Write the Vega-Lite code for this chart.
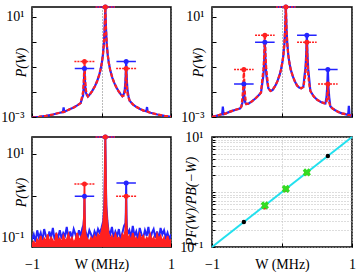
{
"$schema":"https://vega.github.io/schema/vega-lite/v6.json",
"padding":{"left":0,"top":3,"right":6,"bottom":0},
"background":"white",
"config":{"view":{"stroke":"black","strokeWidth":1.5},"font":"Liberation Serif",
"axis":{"labelFont":"Liberation Serif","titleFont":"Liberation Serif","labelFontSize":14,"titleFontSize":14,"titleFontWeight":"normal","labelColor":"black","titleColor":"black","tickColor":"black","domain":false,"labelFlush":false},
"text":{"font":"Liberation Serif","fontSize":14}},
"datasets":{
"sa":[{"W":-1,"b":0.00094,"r":0.00094},{"W":-0.9,"b":0.00101,"r":0.00101},{"W":-0.8,"b":0.00111,"r":0.00111},{"W":-0.7,"b":0.00126,"r":0.00126},{"W":-0.6,"b":0.00148,"r":0.00148},{"W":-0.555,"b":0.00158,"r":0.00158},{"W":-0.545,"b":0.0024,"r":0.0016},{"W":-0.535,"b":0.0016,"r":0.0016},{"W":-0.5,"b":0.0018,"r":0.0018},{"W":-0.45,"b":0.0021,"r":0.0021},{"W":-0.4,"b":0.0024,"r":0.0024},{"W":-0.35,"b":0.0029,"r":0.0029},{"W":-0.3,"b":0.0036,"r":0.0036},{"W":-0.28,"b":0.0055,"r":0.0065},{"W":-0.265,"b":0.0073,"r":0.0103},{"W":-0.255,"b":0.0167,"r":0.0277},{"W":-0.25,"b":0.038,"r":0.069},{"W":-0.245,"b":0.087,"r":0.166},{"W":-0.24,"b":0.039,"r":0.07},{"W":-0.235,"b":0.019,"r":0.03},{"W":-0.225,"b":0.0095,"r":0.012},{"W":-0.21,"b":0.0075,"r":0.0085},{"W":-0.195,"b":0.0066,"r":0.0066},{"W":-0.165,"b":0.0082,"r":0.0082},{"W":-0.135,"b":0.0109,"r":0.0109},{"W":-0.095,"b":0.017,"r":0.017},{"W":-0.065,"b":0.0263,"r":0.0263},{"W":-0.035,"b":0.046,"r":0.046},{"W":-0.015,"b":0.076,"r":0.076},{"W":0.005,"b":0.148,"r":0.148},{"W":0.02,"b":0.3,"r":0.3},{"W":0.035,"b":0.89,"r":0.89},{"W":0.045,"b":3.22,"r":3.22},{"W":0.05,"b":9.25,"r":9.25},{"W":0.055,"b":24.7,"r":24.7},{"W":0.06,"b":9.25,"r":9.25},{"W":0.065,"b":3.22,"r":3.22},{"W":0.075,"b":0.89,"r":0.89},{"W":0.09,"b":0.3,"r":0.3},{"W":0.105,"b":0.148,"r":0.148},{"W":0.125,"b":0.076,"r":0.076},{"W":0.155,"b":0.0376,"r":0.0376},{"W":0.185,"b":0.0225,"r":0.0225},{"W":0.215,"b":0.0151,"r":0.0151},{"W":0.245,"b":0.0109,"r":0.0109},{"W":0.275,"b":0.0082,"r":0.0082},{"W":0.3,"b":0.0068,"r":0.0068},{"W":0.32,"b":0.0082,"r":0.0071},{"W":0.335,"b":0.0123,"r":0.0093},{"W":0.345,"b":0.029,"r":0.018},{"W":0.35,"b":0.07,"r":0.04},{"W":0.355,"b":0.166,"r":0.087},{"W":0.36,"b":0.07,"r":0.04},{"W":0.365,"b":0.028,"r":0.017},{"W":0.375,"b":0.011,"r":0.008},{"W":0.39,"b":0.0065,"r":0.0058},{"W":0.405,"b":0.0045,"r":0.0045},{"W":0.455,"b":0.0031,"r":0.0031},{"W":0.505,"b":0.0025,"r":0.0025},{"W":0.555,"b":0.0021,"r":0.0021},{"W":0.605,"b":0.0018,"r":0.0018},{"W":0.645,"b":0.0017,"r":0.0017},{"W":0.655,"b":0.0025,"r":0.0017},{"W":0.665,"b":0.0016,"r":0.0016},{"W":0.705,"b":0.00148,"r":0.00148},{"W":0.805,"b":0.00126,"r":0.00126},{"W":0.905,"b":0.00111,"r":0.00111},{"W":1,"b":0.00101,"r":0.00101}],
"sb":[{"W":-1,"b":0.001,"r":0.001},{"W":-0.95,"b":0.0011,"r":0.0011},{"W":-0.9,"b":0.0012,"r":0.0012},{"W":-0.855,"b":0.0013,"r":0.0013},{"W":-0.845,"b":0.0026,"r":0.0013},{"W":-0.835,"b":0.0013,"r":0.0013},{"W":-0.8,"b":0.0014,"r":0.0014},{"W":-0.75,"b":0.0016,"r":0.0016},{"W":-0.7,"b":0.0018,"r":0.0018},{"W":-0.65,"b":0.002,"r":0.002},{"W":-0.6,"b":0.0022,"r":0.0022},{"W":-0.58,"b":0.0026,"r":0.0026},{"W":-0.565,"b":0.0038,"r":0.006},{"W":-0.555,"b":0.0059,"r":0.014},{"W":-0.55,"b":0.011,"r":0.034},{"W":-0.545,"b":0.021,"r":0.079},{"W":-0.54,"b":0.011,"r":0.034},{"W":-0.535,"b":0.0059,"r":0.014},{"W":-0.525,"b":0.0038,"r":0.006},{"W":-0.51,"b":0.0033,"r":0.0033},{"W":-0.48,"b":0.0034,"r":0.0034},{"W":-0.43,"b":0.0042,"r":0.0042},{"W":-0.38,"b":0.0055,"r":0.0055},{"W":-0.33,"b":0.0075,"r":0.0075},{"W":-0.3,"b":0.0095,"r":0.0095},{"W":-0.28,"b":0.024,"r":0.035},{"W":-0.265,"b":0.048,"r":0.082},{"W":-0.255,"b":0.15,"r":0.27},{"W":-0.25,"b":0.39,"r":0.74},{"W":-0.245,"b":0.98,"r":1.87},{"W":-0.24,"b":0.39,"r":0.74},{"W":-0.235,"b":0.15,"r":0.27},{"W":-0.225,"b":0.05,"r":0.085},{"W":-0.21,"b":0.025,"r":0.035},{"W":-0.195,"b":0.014,"r":0.014},{"W":-0.165,"b":0.011,"r":0.011},{"W":-0.135,"b":0.012,"r":0.012},{"W":-0.095,"b":0.018,"r":0.018},{"W":-0.065,"b":0.027,"r":0.027},{"W":-0.035,"b":0.047,"r":0.047},{"W":-0.015,"b":0.078,"r":0.078},{"W":0.005,"b":0.15,"r":0.15},{"W":0.02,"b":0.3,"r":0.3},{"W":0.035,"b":0.9,"r":0.9},{"W":0.045,"b":3.2,"r":3.2},{"W":0.05,"b":9.3,"r":9.3},{"W":0.055,"b":25,"r":25},{"W":0.06,"b":9.3,"r":9.3},{"W":0.065,"b":3.2,"r":3.2},{"W":0.075,"b":0.9,"r":0.9},{"W":0.09,"b":0.3,"r":0.3},{"W":0.105,"b":0.15,"r":0.15},{"W":0.125,"b":0.078,"r":0.078},{"W":0.155,"b":0.042,"r":0.042},{"W":0.185,"b":0.026,"r":0.026},{"W":0.215,"b":0.018,"r":0.018},{"W":0.245,"b":0.015,"r":0.015},{"W":0.275,"b":0.014,"r":0.014},{"W":0.305,"b":0.016,"r":0.016},{"W":0.32,"b":0.04,"r":0.028},{"W":0.335,"b":0.09,"r":0.055},{"W":0.345,"b":0.28,"r":0.16},{"W":0.35,"b":0.74,"r":0.4},{"W":0.355,"b":1.87,"r":0.98},{"W":0.36,"b":0.74,"r":0.4},{"W":0.365,"b":0.27,"r":0.15},{"W":0.375,"b":0.08,"r":0.045},{"W":0.39,"b":0.03,"r":0.02},{"W":0.405,"b":0.011,"r":0.011},{"W":0.455,"b":0.0065,"r":0.0065},{"W":0.505,"b":0.0048,"r":0.0048},{"W":0.555,"b":0.004,"r":0.004},{"W":0.6,"b":0.0036,"r":0.0036},{"W":0.62,"b":0.0035,"r":0.0035},{"W":0.635,"b":0.006,"r":0.0038},{"W":0.645,"b":0.014,"r":0.0059},{"W":0.65,"b":0.034,"r":0.011},{"W":0.655,"b":0.079,"r":0.021},{"W":0.66,"b":0.034,"r":0.011},{"W":0.665,"b":0.014,"r":0.0059},{"W":0.675,"b":0.006,"r":0.0038},{"W":0.69,"b":0.0027,"r":0.0027},{"W":0.72,"b":0.0022,"r":0.0022},{"W":0.755,"b":0.0019,"r":0.0019},{"W":0.805,"b":0.0016,"r":0.0016},{"W":0.855,"b":0.0014,"r":0.0014},{"W":0.905,"b":0.0013,"r":0.0013},{"W":0.945,"b":0.0012,"r":0.0012},{"W":0.955,"b":0.0028,"r":0.0012},{"W":0.965,"b":0.0012,"r":0.0012},{"W":1,"b":0.0011,"r":0.0011}],
"sc":[{"W":-1,"b":0.09,"r":0.07},{"W":-0.975,"b":0.12,"r":0.08},{"W":-0.95,"b":0.08,"r":0.065},{"W":-0.925,"b":0.15,"r":0.09},{"W":-0.9,"b":0.1,"r":0.075},{"W":-0.875,"b":0.13,"r":0.11},{"W":-0.85,"b":0.085,"r":0.07},{"W":-0.825,"b":0.16,"r":0.095},{"W":-0.8,"b":0.11,"r":0.08},{"W":-0.775,"b":0.09,"r":0.12},{"W":-0.75,"b":0.14,"r":0.075},{"W":-0.725,"b":0.1,"r":0.1},{"W":-0.7,"b":0.17,"r":0.085},{"W":-0.675,"b":0.09,"r":0.07},{"W":-0.65,"b":0.12,"r":0.13},{"W":-0.625,"b":0.1,"r":0.08},{"W":-0.6,"b":0.15,"r":0.095},{"W":-0.575,"b":0.095,"r":0.075},{"W":-0.55,"b":0.13,"r":0.11},{"W":-0.525,"b":0.11,"r":0.085},{"W":-0.5,"b":0.18,"r":0.09},{"W":-0.475,"b":0.09,"r":0.12},{"W":-0.45,"b":0.14,"r":0.08},{"W":-0.425,"b":0.1,"r":0.1},{"W":-0.4,"b":0.16,"r":0.075},{"W":-0.375,"b":0.12,"r":0.09},{"W":-0.35,"b":0.09,"r":0.13},{"W":-0.325,"b":0.15,"r":0.085},{"W":-0.3,"b":0.11,"r":0.1},{"W":-0.275,"b":0.17,"r":0.12},{"W":-0.26,"b":0.2,"r":0.16},{"W":-0.25,"b":0.3,"r":0.4},{"W":-0.245,"b":0.92,"r":1.9},{"W":-0.24,"b":0.25,"r":0.35},{"W":-0.235,"b":0.16,"r":0.14},{"W":-0.225,"b":0.13,"r":0.11},{"W":-0.2,"b":0.1,"r":0.09},{"W":-0.175,"b":0.15,"r":0.08},{"W":-0.15,"b":0.12,"r":0.1},{"W":-0.125,"b":0.09,"r":0.085},{"W":-0.1,"b":0.14,"r":0.11},{"W":-0.075,"b":0.11,"r":0.09},{"W":-0.05,"b":0.16,"r":0.12},{"W":-0.025,"b":0.13,"r":0.1},{"W":0,"b":0.17,"r":0.14},{"W":0.025,"b":0.25,"r":0.22},{"W":0.04,"b":0.6,"r":0.5},{"W":0.045,"b":1.5,"r":1.4},{"W":0.05,"b":6,"r":6},{"W":0.055,"b":25,"r":25},{"W":0.06,"b":6,"r":6},{"W":0.065,"b":1.5,"r":1.4},{"W":0.07,"b":0.6,"r":0.5},{"W":0.085,"b":0.25,"r":0.22},{"W":0.1,"b":0.15,"r":0.13},{"W":0.125,"b":0.12,"r":0.09},{"W":0.15,"b":0.18,"r":0.11},{"W":0.175,"b":0.1,"r":0.08},{"W":0.2,"b":0.14,"r":0.12},{"W":0.225,"b":0.11,"r":0.09},{"W":0.25,"b":0.16,"r":0.1},{"W":0.275,"b":0.09,"r":0.08},{"W":0.3,"b":0.13,"r":0.12},{"W":0.325,"b":0.19,"r":0.1},{"W":0.345,"b":0.22,"r":0.16},{"W":0.35,"b":0.4,"r":0.3},{"W":0.355,"b":2,"r":0.95},{"W":0.36,"b":0.35,"r":0.25},{"W":0.365,"b":0.18,"r":0.15},{"W":0.375,"b":0.12,"r":0.09},{"W":0.4,"b":0.15,"r":0.11},{"W":0.425,"b":0.1,"r":0.08},{"W":0.45,"b":0.19,"r":0.13},{"W":0.475,"b":0.11,"r":0.09},{"W":0.5,"b":0.14,"r":0.1},{"W":0.525,"b":0.09,"r":0.08},{"W":0.55,"b":0.17,"r":0.12},{"W":0.575,"b":0.12,"r":0.09},{"W":0.6,"b":0.1,"r":0.11},{"W":0.625,"b":0.15,"r":0.08},{"W":0.65,"b":0.11,"r":0.1},{"W":0.675,"b":0.18,"r":0.09},{"W":0.7,"b":0.09,"r":0.12},{"W":0.725,"b":0.13,"r":0.085},{"W":0.75,"b":0.16,"r":0.1},{"W":0.775,"b":0.1,"r":0.075},{"W":0.8,"b":0.14,"r":0.12},{"W":0.825,"b":0.09,"r":0.09},{"W":0.85,"b":0.17,"r":0.11},{"W":0.875,"b":0.12,"r":0.08},{"W":0.9,"b":0.15,"r":0.1},{"W":0.925,"b":0.1,"r":0.07},{"W":0.95,"b":0.13,"r":0.11},{"W":0.975,"b":0.09,"r":0.08},{"W":1,"b":0.12,"r":0.09}],
"ea":[{"s":"b","Wc":0.055,"P":25,"lo":-0.085,"hi":0.195},{"s":"r","Wc":0.055,"P":25,"lo":-0.085,"hi":0.195},{"s":"b","Wc":-0.245,"P":0.087,"lo":-0.385,"hi":-0.105},{"s":"r","Wc":-0.245,"P":0.166,"lo":-0.39,"hi":-0.1},{"s":"b","Wc":0.355,"P":0.166,"lo":0.215,"hi":0.495},{"s":"r","Wc":0.355,"P":0.087,"lo":0.21,"hi":0.5}],
"eb":[{"s":"b","Wc":0.055,"P":25,"lo":-0.085,"hi":0.195},{"s":"r","Wc":0.055,"P":25,"lo":-0.085,"hi":0.195},{"s":"b","Wc":-0.545,"P":0.021,"lo":-0.685,"hi":-0.405},{"s":"r","Wc":-0.545,"P":0.079,"lo":-0.685,"hi":-0.405},{"s":"b","Wc":-0.245,"P":0.98,"lo":-0.385,"hi":-0.105},{"s":"r","Wc":-0.245,"P":1.87,"lo":-0.385,"hi":-0.105},{"s":"b","Wc":0.355,"P":1.87,"lo":0.215,"hi":0.495},{"s":"r","Wc":0.355,"P":0.98,"lo":0.215,"hi":0.495},{"s":"b","Wc":0.655,"P":0.079,"lo":0.515,"hi":0.795},{"s":"r","Wc":0.655,"P":0.021,"lo":0.515,"hi":0.795}],
"ec":[{"s":"b","Wc":0.055,"P":25,"lo":-0.085,"hi":0.195},{"s":"r","Wc":0.055,"P":25,"lo":-0.085,"hi":0.195},{"s":"b","Wc":-0.245,"P":0.97,"lo":-0.385,"hi":-0.105},{"s":"r","Wc":-0.245,"P":1.89,"lo":-0.39,"hi":-0.1},{"s":"b","Wc":0.355,"P":2.0,"lo":0.215,"hi":0.495},{"s":"r","Wc":0.355,"P":0.97,"lo":0.21,"hi":0.5}],
"dl":[{"W":-1,"P":0.1},{"W":1,"P":10}],
"dk":[{"W":-0.545,"P":0.285},{"W":0.655,"P":4.52}],
"dg":[{"W":-0.245,"P":0.569,"R":0.54},{"W":0.055,"P":1.135,"R":1.12},{"W":0.355,"P":2.265,"R":2.25}]
},
"columns":2,
"spacing":{"row":20,"column":41},
"bounds":"flush",
"concat":[
{"width":139,"height":110,
"layer":[
{"mark":{"type":"rule","color":"#333","strokeDash":[1,1.5],"strokeWidth":1},"encoding":{"x":{"datum":0.055,"type":"quantitative"}}},
{"data":{"name":"sa"},"mark":{"type":"line","color":"#2424ff","strokeWidth":2.2,"clip":true},
"encoding":{"x":{"field":"W","type":"quantitative","scale":{"domain":[-1,1],"nice":false,"zero":false},"axis":{"values":[-1,-0.5,0,0.5,1],"labels":false,"title":null,"grid":true,"gridDash":[1,2],"gridColor":"#777","tickSize":-4}},
"y":{"field":"b","type":"quantitative","scale":{"type":"log","domain":[0.001,25],"nice":false},"axis":{"values":[0.001,0.01,0.1,1,10],"labelExpr":"datum.value == 10 ? '10¹' : datum.value == 0.001 ? '10⁻³' : ''","labelPadding":12,"tickSize":-4,"grid":false,"title":"P(W)","titleFontStyle":"italic","titleX":-11,"titleBaseline":"middle"}}}},
{"data":{"name":"sa"},"mark":{"type":"line","color":"#ff2020","strokeWidth":2.2,"strokeDash":[4,2],"clip":true},"encoding":{"x":{"field":"W","type":"quantitative"},"y":{"field":"r","type":"quantitative"}}},
{"data":{"name":"ea"},"mark":{"type":"rule","strokeWidth":1.5},"encoding":{"x":{"field":"lo","type":"quantitative"},"x2":{"field":"hi"},"y":{"field":"P","type":"quantitative"},"color":{"field":"s","type":"nominal","scale":{"domain":["b","r"],"range":["#2424ff","#ff2020"]},"legend":null},"strokeDash":{"field":"s","type":"nominal","scale":{"domain":["b","r"],"range":[[1,0],[2,1]]},"legend":null}}},
{"data":{"name":"ea"},"mark":{"type":"circle","size":25,"opacity":1},"encoding":{"x":{"field":"Wc","type":"quantitative"},"y":{"field":"P","type":"quantitative"},"color":{"field":"s","type":"nominal","legend":null}}},
{"mark":{"type":"text","text":"(a)","align":"left","baseline":"middle"},"encoding":{"x":{"datum":-0.93,"type":"quantitative"},"y":{"datum":10,"type":"quantitative"}}}
]},
{"width":140,"height":110,
"layer":[
{"mark":{"type":"rule","color":"#333","strokeDash":[1,1.5],"strokeWidth":1},"encoding":{"x":{"datum":0.055,"type":"quantitative"}}},
{"data":{"name":"sb"},"mark":{"type":"line","color":"#2424ff","strokeWidth":2.2,"clip":true},
"encoding":{"x":{"field":"W","type":"quantitative","scale":{"domain":[-1,1],"nice":false,"zero":false},"axis":{"values":[-1,-0.5,0,0.5,1],"labels":false,"title":null,"grid":true,"gridDash":[1,2],"gridColor":"#777","tickSize":-4}},
"y":{"field":"b","type":"quantitative","scale":{"type":"log","domain":[0.001,25],"nice":false},"axis":{"values":[0.001,0.01,0.1,1,10],"labelExpr":"datum.value == 10 ? '10¹' : datum.value == 0.001 ? '10⁻³' : ''","labelPadding":12,"tickSize":-4,"grid":false,"title":"P(W)","titleFontStyle":"italic","titleX":-14,"titleBaseline":"middle"}}}},
{"data":{"name":"sb"},"mark":{"type":"line","color":"#ff2020","strokeWidth":2.2,"strokeDash":[4,2],"clip":true},"encoding":{"x":{"field":"W","type":"quantitative"},"y":{"field":"r","type":"quantitative"}}},
{"data":{"name":"eb"},"mark":{"type":"rule","strokeWidth":1.5},"encoding":{"x":{"field":"lo","type":"quantitative"},"x2":{"field":"hi"},"y":{"field":"P","type":"quantitative"},"color":{"field":"s","type":"nominal","legend":null},"strokeDash":{"field":"s","type":"nominal","legend":null}}},
{"data":{"name":"eb"},"mark":{"type":"circle","size":25,"opacity":1},"encoding":{"x":{"field":"Wc","type":"quantitative"},"y":{"field":"P","type":"quantitative"},"color":{"field":"s","type":"nominal","legend":null}}},
{"mark":{"type":"text","text":"(b)","align":"left","baseline":"middle"},"encoding":{"x":{"datum":-0.9,"type":"quantitative"},"y":{"datum":12,"type":"quantitative"}}}
]},
{"width":139,"height":110,
"layer":[
{"data":{"name":"sc"},"mark":{"type":"line","color":"#2424ff","strokeWidth":2,"clip":true},
"encoding":{"x":{"field":"W","type":"quantitative","scale":{"domain":[-1,1],"nice":false,"zero":false},"axis":{"values":[-1,-0.5,0,0.5,1],"labelExpr":"datum.value == -1 ? '−1' : datum.value == 1 ? '1' : ''","labelPadding":14,"title":"W (MHz)","titleY":17,"titleBaseline":"middle","grid":true,"gridDash":[1,2],"gridColor":"#777","tickSize":-4}},
"y":{"field":"b","type":"quantitative","scale":{"type":"log","domain":[0.06,25],"nice":false},"axis":{"values":[0.1,1,10],"labelExpr":"datum.value == 10 ? '10¹' : datum.value == 0.1 ? '10⁻¹' : ''","labelPadding":12,"tickSize":-4,"grid":false,"title":"P(W)","titleFontStyle":"italic","titleX":-11,"titleBaseline":"middle"}}}},
{"data":{"name":"sc"},"mark":{"type":"area","color":"#ff2020","opacity":1,"clip":true},"encoding":{"x":{"field":"W","type":"quantitative"},"y":{"field":"r","type":"quantitative"},"y2":{"datum":0.06}}},
{"data":{"name":"sc"},"mark":{"type":"line","color":"#ff2020","strokeWidth":1.8,"clip":true},"encoding":{"x":{"field":"W","type":"quantitative"},"y":{"field":"r","type":"quantitative"}}},
{"mark":{"type":"rule","color":"#333","strokeDash":[1,1.5],"strokeWidth":1},"encoding":{"x":{"datum":0.055,"type":"quantitative"}}},
{"data":{"name":"ec"},"mark":{"type":"rule","strokeWidth":1.5},"encoding":{"x":{"field":"lo","type":"quantitative"},"x2":{"field":"hi"},"y":{"field":"P","type":"quantitative"},"color":{"field":"s","type":"nominal","legend":null},"strokeDash":{"field":"s","type":"nominal","legend":null}}},
{"data":{"name":"ec"},"mark":{"type":"circle","size":25,"opacity":1},"encoding":{"x":{"field":"Wc","type":"quantitative"},"y":{"field":"P","type":"quantitative"},"color":{"field":"s","type":"nominal","legend":null}}},
{"mark":{"type":"text","text":"(c)","align":"left","baseline":"middle"},"encoding":{"x":{"datum":-0.91,"type":"quantitative"},"y":{"datum":14.8,"type":"quantitative"}}}
]},
{"width":140,"height":110,
"layer":[
{"mark":{"type":"rule","color":"#333","strokeDash":[1,1.5],"strokeWidth":1},"encoding":{"x":{"datum":0.055,"type":"quantitative"}}},
{"data":{"name":"dl"},"mark":{"type":"line","color":"#22e0ee","strokeWidth":2},
"encoding":{"x":{"field":"W","type":"quantitative","scale":{"domain":[-1,1],"nice":false,"zero":false},"axis":{"values":[-1,-0.5,0,0.5,1],"labelExpr":"datum.value == -1 ? '−1' : datum.value == 1 ? '1' : ''","labelPadding":14,"title":"W (MHz)","titleY":17,"titleBaseline":"middle","grid":true,"gridDash":[1,2],"gridColor":"#bbb","tickSize":-4}},
"y":{"field":"P","type":"quantitative","scale":{"type":"log","domain":[0.1,10],"nice":false},"axis":{"values":[0.1,0.2,0.3,0.4,0.5,0.6,0.7,0.8,0.9,1,2,3,4,5,6,7,8,9,10],"labelExpr":"datum.value == 10 ? '10¹' : datum.value == 0.1 ? '10⁻¹' : ''","labelPadding":12,"tickSize":-3,"grid":true,"gridDash":[1,2],"gridColor":"#bbb","title":"PF(W)/PB(−W)","titleFontStyle":"italic","titleX":-21,"titleY":64,"titleBaseline":"middle"}}}},
{"data":{"name":"dk"},"mark":{"type":"circle","size":20,"color":"black","opacity":1},"encoding":{"x":{"field":"W","type":"quantitative"},"y":{"field":"P","type":"quantitative"}}},
{"data":{"name":"dg"},"mark":{"type":"circle","size":30,"color":"#ff2020","opacity":1},"encoding":{"x":{"field":"W","type":"quantitative"},"y":{"field":"R","type":"quantitative"}}},
{"data":{"name":"dg"},"mark":{"type":"point","shape":"cross","angle":45,"size":70,"filled":true,"color":"#33dd22","opacity":1},"encoding":{"x":{"field":"W","type":"quantitative"},"y":{"field":"P","type":"quantitative"}}},
{"mark":{"type":"text","text":"(d)","align":"left","baseline":"middle"},"encoding":{"x":{"datum":-0.9,"type":"quantitative"},"y":{"datum":4.7,"type":"quantitative"}}}
]}
]
}
